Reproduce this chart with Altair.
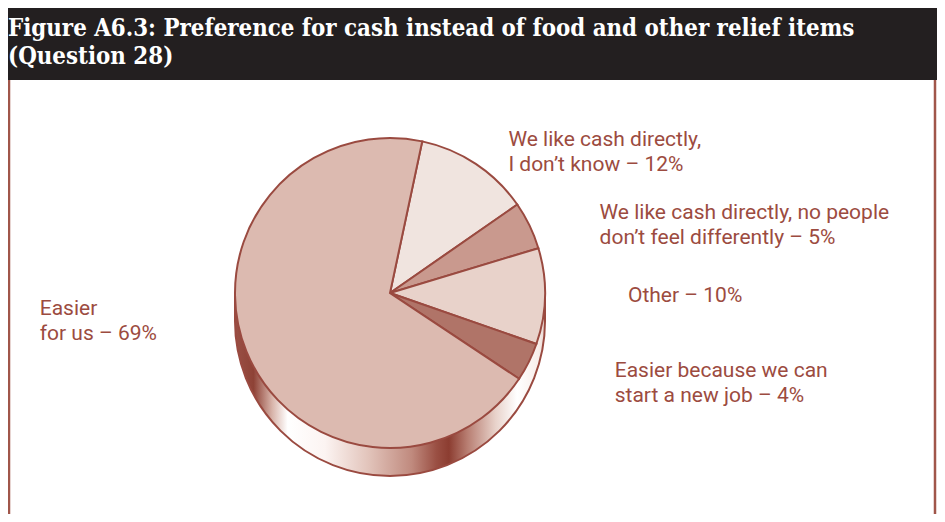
import math
import altair as alt
import pandas as pd

# ---- data ----
categories = [
    "We like cash directly,\nI don’t know",
    "We like cash directly, no people\ndon’t feel differently",
    "Other",
    "Easier because we can\nstart a new job",
    "Easier\nfor us",
]
values = [12, 5, 10, 4, 69]
slice_colors = ["#f0e4df", "#c9998e", "#e8d2ca", "#b07468", "#dcbab0"]

title_lines = [
    "Figure A6.3: Preference for cash instead of food and other relief items",
    "(Question 28)",
]

df = pd.DataFrame({
    "category": categories,
    "value": values,
    "order": list(range(len(categories))),
})
df["label"] = [f"{c} – {v}%" for c, v in zip(categories, values)]

# ---- layout / style ----
W, H = 929, 506
CX, CY, R, RIM = 382, 285, 155, 28
STROKE = "#9a4a40"
TEXT = "#9c4b40"
start = math.radians(12)
LABEL_R = R + 30
# per-label placement tweaks (dx, dy) relative to the slice's mid-angle anchor
label_place = [
    (16, 1),
    (43, 1),
    (53, -1),
    (59, -4),
    (-179, -54),
]

dummy = alt.Chart(pd.DataFrame({"d": [0]}))

rim_grad = alt.LinearGradient(
    gradient="linear", x1=0, x2=1, y1=0, y2=0,
    stops=[
        alt.GradientStop(color="#9a5045", offset=0.0),
        alt.GradientStop(color="#8e4236", offset=0.06),
        alt.GradientStop(color="#d8b4aa", offset=0.12),
        alt.GradientStop(color="#ffffff", offset=0.17),
        alt.GradientStop(color="#fcf4f2", offset=0.29),
        alt.GradientStop(color="#e2c4bb", offset=0.43),
        alt.GradientStop(color="#c08a7e", offset=0.57),
        alt.GradientStop(color="#9a4f43", offset=0.65),
        alt.GradientStop(color="#8c3d31", offset=0.69),
        alt.GradientStop(color="#b87e72", offset=0.75),
        alt.GradientStop(color="#e8d2ca", offset=0.84),
        alt.GradientStop(color="#ffffff", offset=0.91),
        alt.GradientStop(color="#f8eeea", offset=0.98),
        alt.GradientStop(color="#e8d6d0", offset=1.0),
    ],
)

# title bar
bar = dummy.mark_rect(color="#231f20").encode(
    x=alt.value(0), x2=alt.value(W), y=alt.value(0), y2=alt.value(72)
)
title_text = alt.Chart(pd.DataFrame({"t": ["\n".join(title_lines)]})).mark_text(
    align="left", baseline="alphabetic", lineBreak="\n", lineHeight=28,
    font="DejaVu Serif Condensed, DejaVu Serif", fontWeight="bold",
    fontSize=23.8, color="#ffffff",
).encode(text="t:N", x=alt.value(0), y=alt.value(28))

# frame
frame_l = dummy.mark_rule(color="#a0564a", strokeWidth=2.5).encode(
    x=alt.value(1), y=alt.value(72), y2=alt.value(H)
)
frame_r = dummy.mark_rule(color="#a0564a", strokeWidth=2.5).encode(
    x=alt.value(W - 2), y=alt.value(72), y2=alt.value(H)
)

# 3D rim
rim_bottom = dummy.mark_arc(
    radius=R, theta=0, theta2=2 * math.pi, fill=rim_grad,
    stroke=STROKE, strokeWidth=2,
).encode(x=alt.value(CX), y=alt.value(CY + RIM))
rim_mid = dummy.mark_rect(fill=rim_grad).encode(
    x=alt.value(CX - R), x2=alt.value(CX + R), y=alt.value(CY), y2=alt.value(CY + RIM)
)
rim_side_l = dummy.mark_rule(color=STROKE, strokeWidth=2).encode(
    x=alt.value(CX - R), y=alt.value(CY), y2=alt.value(CY + RIM)
)
rim_side_r = dummy.mark_rule(color=STROKE, strokeWidth=2).encode(
    x=alt.value(CX + R), y=alt.value(CY), y2=alt.value(CY + RIM)
)

theta_scale = alt.Scale(domain=[0, 100], range=[start, start + 2 * math.pi])

pie = alt.Chart(df).mark_arc(radius=R, stroke=STROKE, strokeWidth=2).encode(
    theta=alt.Theta("value:Q", stack=True, scale=theta_scale),
    order=alt.Order("order:Q"),
    color=alt.Color("category:N", scale=alt.Scale(domain=categories, range=slice_colors), legend=None),
    x=alt.value(CX),
    y=alt.value(CY),
)

label_layers = []
for i, (dx, dy) in enumerate(label_place):
    label_layers.append(
        alt.Chart(df)
        .transform_window(cum="sum(value)", sort=[alt.SortField("order")], frame=[None, 0])
        .transform_calculate(mid="datum.cum - datum.value / 2")
        .transform_filter(f"datum.order == {i}")
        .mark_text(
            radius=LABEL_R, align="left", dx=dx, dy=dy, baseline="middle",
            lineBreak="\n", lineHeight=25, font="Roboto", fontSize=21,
            color=TEXT,
        )
        .encode(
            theta=alt.Theta("mid:Q", stack=None, scale=theta_scale),
            text="label:N",
            x=alt.value(CX),
            y=alt.value(CY),
        )
    )

chart = alt.layer(
    bar, title_text, frame_l, frame_r,
    rim_bottom, rim_mid, rim_side_l, rim_side_r,
    pie, *label_layers,
).properties(
    width=W, height=H, padding=0, autosize="none"
).configure_view(stroke=None)

chart.save("out.html", embed_options={"renderer": "svg", "actions": False})
